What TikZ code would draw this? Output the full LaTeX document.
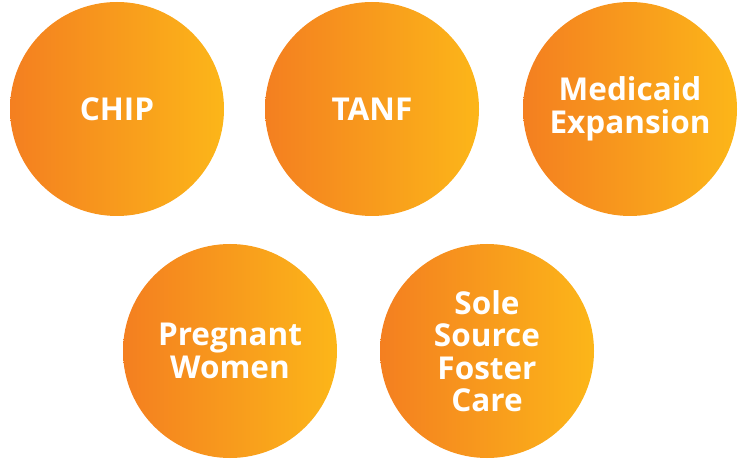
\documentclass[tikz,border=0pt]{standalone}
\usepackage{fontspec}
\setmainfont{Open Sans}
\definecolor{orL}{HTML}{F47F20}
\definecolor{orR}{HTML}{FCB619}
\begin{document}
\begin{tikzpicture}[x=1pt,y=-1pt,
  bubble/.style={circle, inner sep=0pt, minimum size=214pt, left color=orL, right color=orR, draw=none,
    text=white, font=\fontsize{31.5}{32.5}\selectfont\bfseries, align=center}]
\useasboundingbox (0,0) rectangle (741,462);
\node[bubble] (chip) at (117,109) {CHIP};
\node[bubble] (tanf) at (372,109) {TANF};
\node[bubble] (med) at (630,109) {Medicaid\\Expansion};
\node[bubble] (preg) at (230,351) {Pregnant\\Women};
\node[bubble] (sole) at (487,351) {Sole\\Source\\Foster\\Care};
\end{tikzpicture}
\end{document}
